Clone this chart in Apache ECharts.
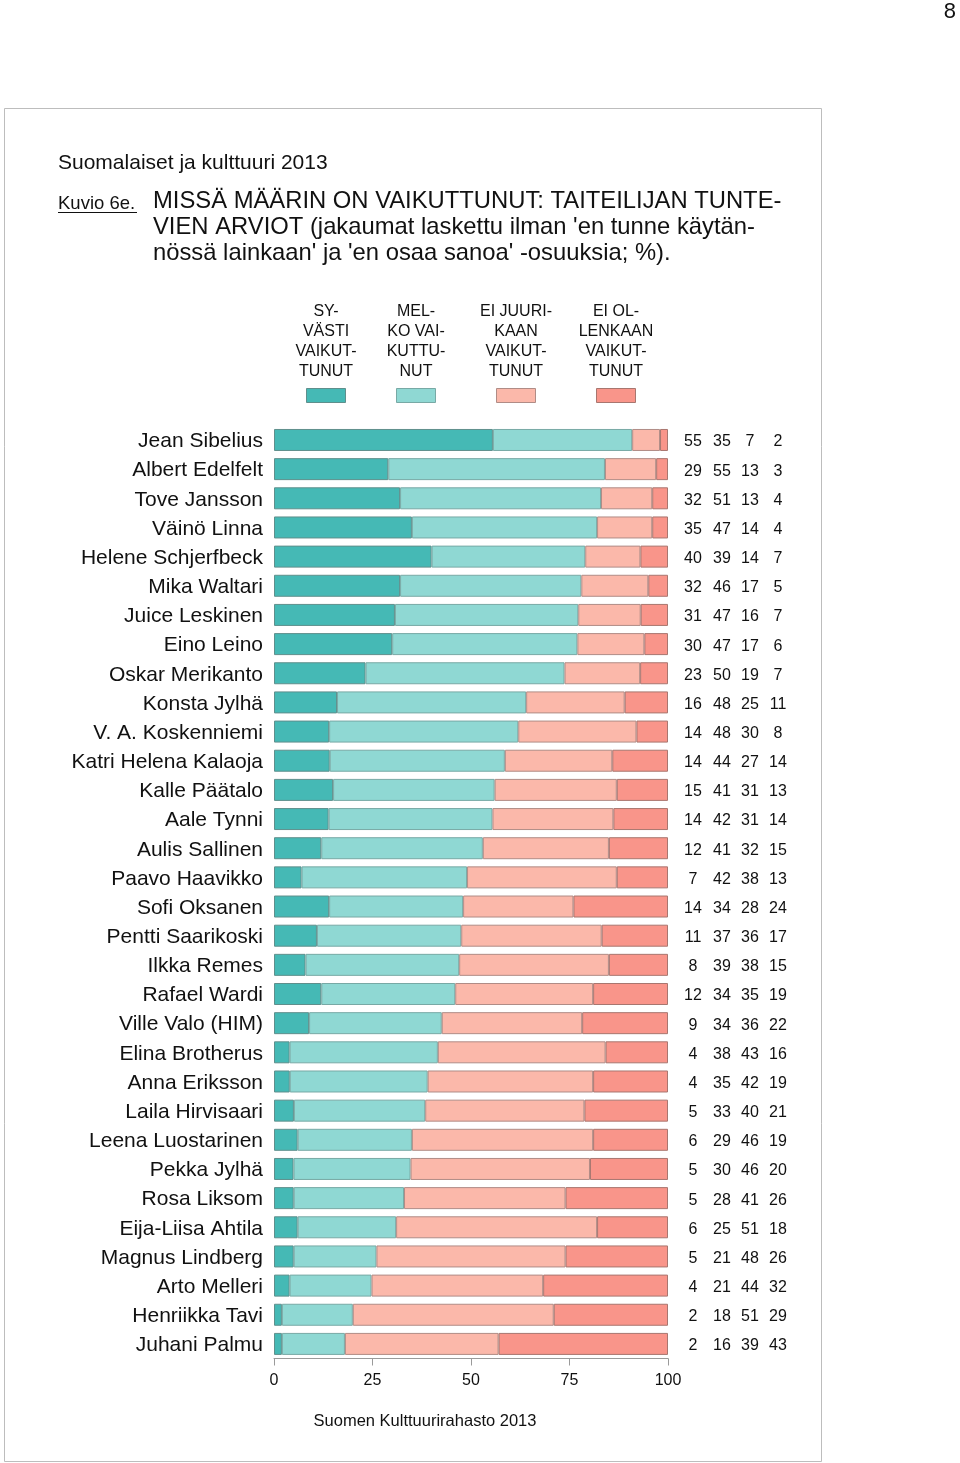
<!DOCTYPE html>
<html>
<head>
<meta charset="utf-8">
<script src="https://cdn.jsdelivr.net/npm/echarts@6/dist/echarts.min.js"></script>
<style>
html,body{margin:0;padding:0;background:#fff;}
#c{width:960px;height:1463px;}
</style>
</head>
<body>
<div id="c"></div>
<script>
const categories = ["Jean Sibelius","Albert Edelfelt","Tove Jansson","Väinö Linna","Helene Schjerfbeck","Mika Waltari","Juice Leskinen","Eino Leino","Oskar Merikanto","Konsta Jylhä","V. A. Koskenniemi","Katri Helena Kalaoja","Kalle Päätalo","Aale Tynni","Aulis Sallinen","Paavo Haavikko","Sofi Oksanen","Pentti Saarikoski","Ilkka Remes","Rafael Wardi","Ville Valo (HIM)","Elina Brotherus","Anna Eriksson","Laila Hirvisaari","Leena Luostarinen","Pekka Jylhä","Rosa Liksom","Eija-Liisa Ahtila","Magnus Lindberg","Arto Melleri","Henriikka Tavi","Juhani Palmu"];
const syvasti = [55,29,32,35,40,32,31,30,23,16,14,14,15,14,12,7,14,11,8,12,9,4,4,5,6,5,5,6,5,4,2,2];
const melko   = [35,55,51,47,39,46,47,47,50,48,48,44,41,42,41,42,34,37,39,34,34,38,35,33,29,30,28,25,21,21,18,16];
const eiJuuri = [7,13,13,14,14,17,16,17,19,25,30,27,31,31,32,38,28,36,38,35,36,43,42,40,46,46,41,51,48,44,51,39];
const eiOl    = [2,3,4,4,7,5,7,6,7,11,8,14,13,14,15,13,24,17,15,19,22,16,19,21,19,20,26,18,26,32,29,43];
const seriesNames = ["SY-\nVÄSTI\nVAIKUT-\nTUNUT","MEL-\nKO VAI-\nKUTTU-\nNUT","EI JUURI-\nKAAN\nVAIKUT-\nTUNUT","EI OL-\nLENKAAN\nVAIKUT-\nTUNUT"];
const xTicks = [0,25,50,75,100];

const colors = ["#45b9b5","#8fd8d3","#fbb8aa","#f9958a"];
const borders = ["#5f8f8c","#78a9a5","#b08c86","#a8766f"];
const all = [syvasti, melko, eiJuuri, eiOl];
const totals = categories.map((_, i) => all.reduce((s, a) => s + a[i], 0));
const FF = '"Liberation Sans", Arial, sans-serif';

const chart = echarts.init(document.getElementById('c'), null, {renderer:'canvas'});

const series = all.map((arr, k) => ({
  name: seriesNames[k],
  type: 'bar',
  stack: 'total',
  barWidth: 22,
  xAxisIndex: 0, yAxisIndex: 0,
  itemStyle: {color: colors[k], borderColor: borders[k], borderWidth: 1},
  emphasis: {disabled: true},
  data: arr.map((v, i) => v / totals[i] * 100)
}));

const colCenters = [326, 416, 516, 616];
const graphics = [];
graphics.push({type:'rect', shape:{x:4.5, y:108.5, width:817, height:1353}, style:{fill:'none', stroke:'#bdbdbd', lineWidth:1}, silent:true, z:-1});
graphics.push({type:'text', x:956, y:1, style:{text:'8', font:'22px ' + FF, fill:'#111', align:'right', verticalAlign:'top'}});
graphics.push({type:'text', x:58, y:163, style:{text:'Suomalaiset ja kulttuuri 2013', font:'21px ' + FF, fill:'#111', verticalAlign:'middle'}});
graphics.push({type:'text', x:58, y:204, style:{text:'Kuvio 6e.', font:'18.5px ' + FF, fill:'#111', verticalAlign:'middle'}});
graphics.push({type:'line', shape:{x1:58, y1:212.5, x2:137, y2:212.5}, style:{stroke:'#111', lineWidth:1}});
const titleLines = ["MISSÄ MÄÄRIN ON VAIKUTTUNUT: TAITEILIJAN TUNTE-","VIEN ARVIOT (jakaumat laskettu ilman 'en tunne käytän-","nössä lainkaan' ja 'en osaa sanoa' -osuuksia; %)."];
titleLines.forEach((t, i) => graphics.push({type:'text', x:153, y:201 + i*26, style:{text:t, font:'23.8px ' + FF, fill:'#111', verticalAlign:'middle'}}));
seriesNames.forEach((n, k) => {
  n.split('\n').forEach((ln, j) => graphics.push({type:'text', x:colCenters[k], y:312 + j*20, style:{text:ln, font:'16px ' + FF, fill:'#111', align:'center', verticalAlign:'middle'}}));
  graphics.push({type:'rect', shape:{x:colCenters[k]-19.5, y:388.5, width:39, height:14}, style:{fill:colors[k], stroke:borders[k], lineWidth:1}});
});
graphics.push({type:'text', x:425, y:1421, style:{text:'Suomen Kulttuurirahasto 2013', font:'16.5px ' + FF, fill:'#111', align:'center', verticalAlign:'middle'}});

const margins = [25, 54, 82, 110];
const yAxes = [{
  type:'category', data:categories, inverse:true, gridIndex:0,
  axisLine:{show:false}, axisTick:{show:false},
  axisLabel:{fontSize:21, color:'#111', margin:11, fontFamily:FF,
    formatter:(val) => '{a|' + val + '}',
    rich:{a:{fontSize:21, color:'#111', fontFamily:FF, padding:[3,0,0,0]}}}
}];
all.forEach((arr, k) => yAxes.push({
  type:'category', data:categories, inverse:true, gridIndex:0, position:'right',
  axisLine:{show:false}, axisTick:{show:false},
  axisLabel:{fontSize:16, color:'#111', margin:margins[k], align:'center', fontFamily:FF,
    formatter:(val, idx) => '{a|' + arr[idx] + '}',
    rich:{a:{fontSize:16, color:'#111', fontFamily:FF, padding:[4,0,0,0]}}}
}));

chart.setOption({
  animation:false,
  backgroundColor:'#fff',
  grid:{left:274, top:425.4, width:394, height:933.1, containLabel:false},
  xAxis:{type:'value', min:xTicks[0], max:xTicks[xTicks.length-1], interval:25,
    axisLine:{show:true, lineStyle:{color:'#9a9a9a'}},
    axisTick:{show:true, length:7, lineStyle:{color:'#9a9a9a'}},
    splitLine:{show:false},
    axisLabel:{fontSize:16, color:'#111', margin:14, fontFamily:FF}},
  yAxis:yAxes,
  series:series,
  graphic:graphics
});
</script>
</body>
</html>
